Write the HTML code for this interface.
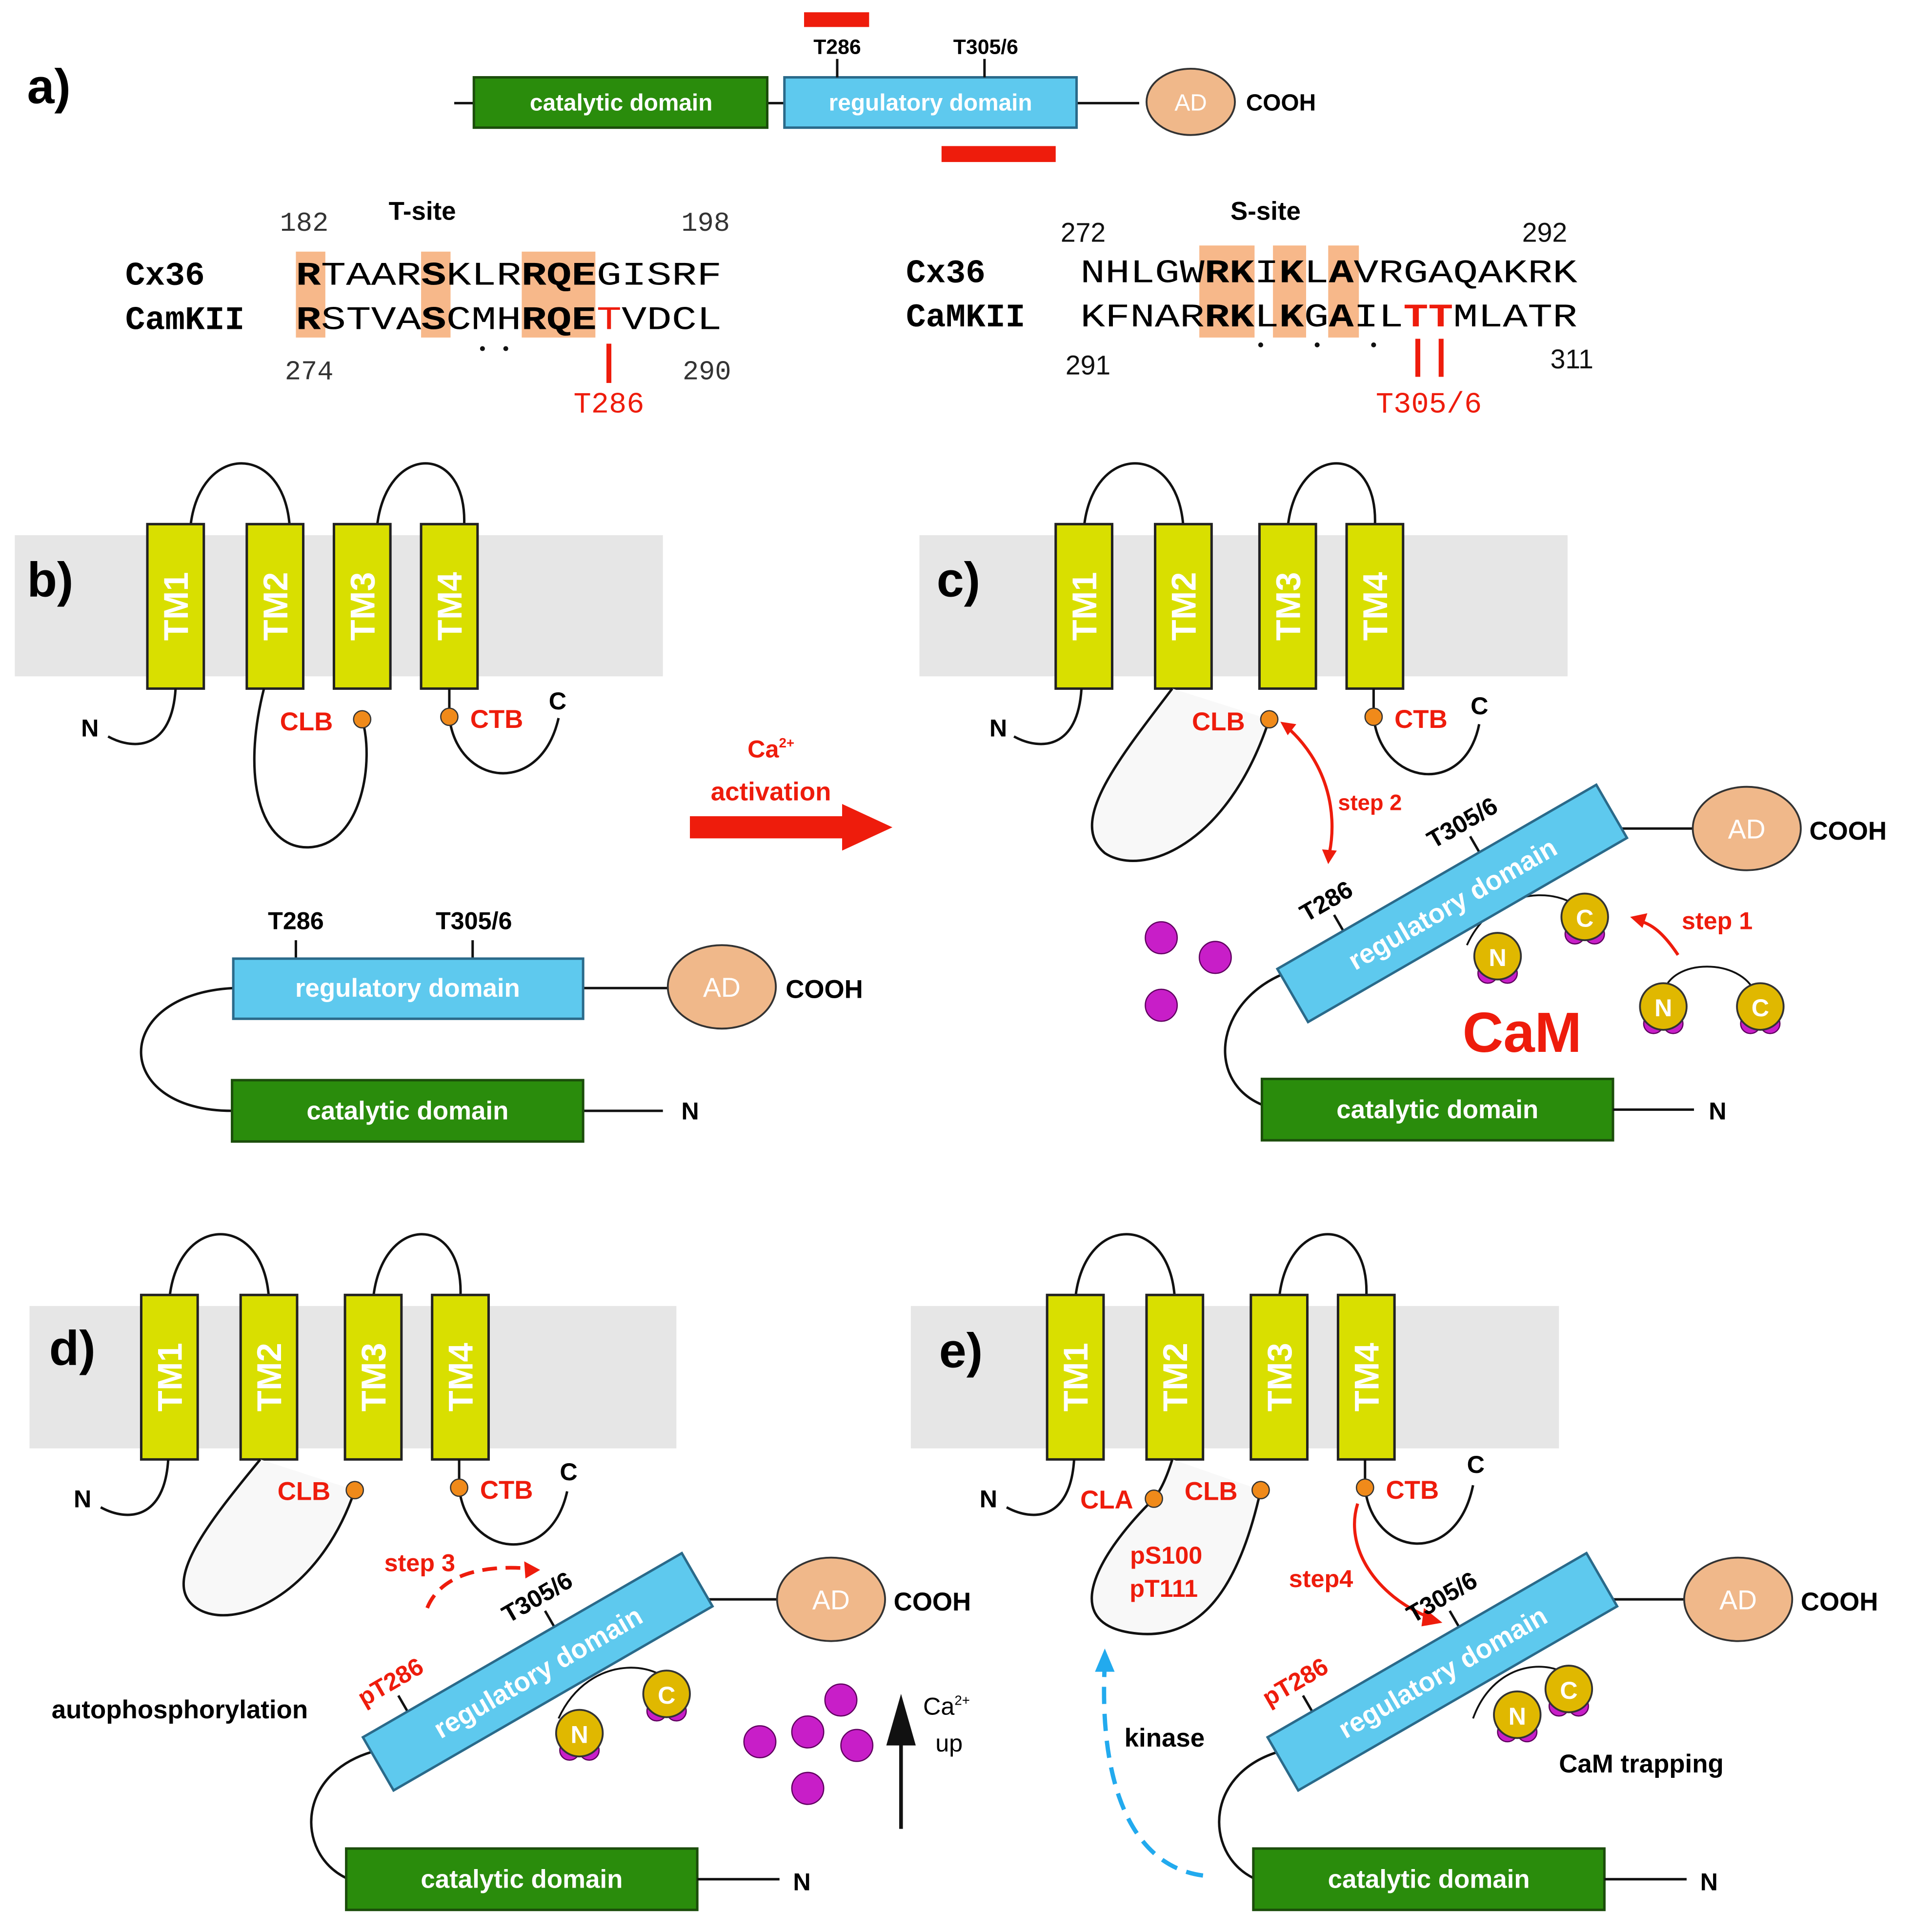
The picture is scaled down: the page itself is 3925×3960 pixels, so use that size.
<!DOCTYPE html>
<html><head><meta charset="utf-8"><style>
html,body{margin:0;padding:0;background:#fff}
svg{display:block}
text{font-family:"Liberation Sans",sans-serif}
.mono{font-family:"Liberation Mono",monospace}
</style></head><body>
<svg width="3925" height="3960" viewBox="0 0 1560 1574" xmlns="http://www.w3.org/2000/svg">
<defs>
<g id="mem">
  <rect x="0" y="436" width="528" height="115" fill="#e6e6e6"/>
  <path d="M143 430 C150 360 220 360 224 430" fill="none" stroke="#111" stroke-width="2"/>
  <path d="M295 430 C302 360 370 360 366 430" fill="none" stroke="#111" stroke-width="2"/>
  <g fill="#d9df00" stroke="#222" stroke-width="2">
    <rect x="108" y="427" width="46" height="134"/>
    <rect x="189" y="427" width="46" height="134"/>
    <rect x="260" y="427" width="46" height="134"/>
    <rect x="331" y="427" width="46" height="134"/>
  </g>
  <g fill="#fff" font-weight="bold" font-size="28">
    <text transform="translate(141 494) rotate(-90)" text-anchor="middle">TM1</text>
    <text transform="translate(222 494) rotate(-90)" text-anchor="middle">TM2</text>
    <text transform="translate(293 494) rotate(-90)" text-anchor="middle">TM3</text>
    <text transform="translate(364 494) rotate(-90)" text-anchor="middle">TM4</text>
  </g>
</g>
<g id="mem2">
  <path d="M131 430 C138 360 208 360 212 430" fill="none" stroke="#111" stroke-width="2"/>
  <path d="M297 430 C304 360 372 360 368 430" fill="none" stroke="#111" stroke-width="2"/>
  <g fill="#d9df00" stroke="#222" stroke-width="2">
    <rect x="108" y="427" width="46" height="134"/>
    <rect x="189" y="427" width="46" height="134"/>
    <rect x="274" y="427" width="46" height="134"/>
    <rect x="345" y="427" width="46" height="134"/>
  </g>
  <g fill="#fff" font-weight="bold" font-size="28">
    <text transform="translate(141 494) rotate(-90)" text-anchor="middle">TM1</text>
    <text transform="translate(222 494) rotate(-90)" text-anchor="middle">TM2</text>
    <text transform="translate(307 494) rotate(-90)" text-anchor="middle">TM3</text>
    <text transform="translate(378 494) rotate(-90)" text-anchor="middle">TM4</text>
  </g>
</g>
<g id="cam">
  <circle cx="-4" cy="14" r="8" fill="#c81ec8" stroke="#600060"/>
  <circle cx="12" cy="14" r="8" fill="#c81ec8" stroke="#600060"/>
  <circle cx="4" cy="0" r="19" fill="#e0b800" stroke="#333" stroke-width="1.5"/>
</g>
</defs>

<!-- panel a -->
<text x="22" y="84" font-size="40" font-weight="bold">a)</text>
<line x1="370" y1="84" x2="386" y2="84" stroke="#111" stroke-width="2"/>
<line x1="625" y1="84" x2="639" y2="84" stroke="#111" stroke-width="2"/>
<line x1="877" y1="84" x2="928" y2="84" stroke="#111" stroke-width="2"/>
<rect x="386" y="63" width="239" height="41" fill="#2a8c0c" stroke="#1b4d0b" stroke-width="2"/>
<text x="506" y="90" fill="#fff" font-size="19" font-weight="bold" text-anchor="middle">catalytic domain</text>
<rect x="639" y="63" width="238" height="41" fill="#5ec9ee" stroke="#2a6a8a" stroke-width="2"/>
<text x="758" y="90" fill="#fff" font-size="19" font-weight="bold" text-anchor="middle">regulatory domain</text>
<line x1="682" y1="48" x2="682" y2="63" stroke="#111" stroke-width="2"/>
<line x1="802" y1="48" x2="802" y2="63" stroke="#111" stroke-width="2"/>
<text x="682" y="44" font-size="17" font-weight="bold" text-anchor="middle">T286</text>
<text x="803" y="44" font-size="17" font-weight="bold" text-anchor="middle">T305/6</text>
<rect x="655" y="10" width="53" height="12" fill="#ee1c0c"/>
<rect x="767" y="119" width="93" height="13" fill="#ee1c0c"/>
<ellipse cx="970" cy="83" rx="36" ry="27" fill="#f0b88a" stroke="#333" stroke-width="1.5"/>
<text x="970" y="90" fill="#fff" font-size="19" text-anchor="middle">AD</text>
<text x="1015" y="90" font-size="19" font-weight="bold">COOH</text>

<!-- T-site -->
<g fill="#f7b88a">
<rect x="241" y="205" width="24" height="70"/>
<rect x="343" y="205" width="24" height="70"/>
<rect x="425" y="205" width="60" height="70"/>
<rect x="977" y="200" width="45" height="75"/>
<rect x="1037" y="200" width="27" height="75"/>
<rect x="1082" y="200" width="25" height="75"/>
</g>
<text x="344" y="179" font-size="21" font-weight="bold" text-anchor="middle">T-site</text>
<text class="mono" x="228" y="188" font-size="22" fill="#333">182</text>
<text class="mono" x="555" y="188" font-size="22" fill="#333">198</text>
<text class="mono" x="232" y="309" font-size="22" fill="#333">274</text>
<text class="mono" x="556" y="309" font-size="22" fill="#333">290</text>
<text class="mono" x="102" y="232" font-size="27" font-weight="bold">Cx36</text>
<text class="mono" x="102" y="268" font-size="27" font-weight="bold">CamKII</text>
<text class="mono" x="241" y="232" font-size="27" textLength="347" lengthAdjust="spacingAndGlyphs"><tspan font-weight="bold">R</tspan>TAAR<tspan font-weight="bold">S</tspan>KLR<tspan font-weight="bold">RQE</tspan>GISRF</text>
<text class="mono" x="241" y="268" font-size="27" textLength="347" lengthAdjust="spacingAndGlyphs"><tspan font-weight="bold">R</tspan>STVA<tspan font-weight="bold">S</tspan>CMH<tspan font-weight="bold">RQE</tspan><tspan fill="#ee1c0c">T</tspan>VDCL</text>
<circle cx="393" cy="284" r="2" fill="#111"/><circle cx="412" cy="284" r="2" fill="#111"/>
<rect x="494" y="280" width="4" height="32" fill="#ee1c0c"/>
<text class="mono" x="496" y="336" font-size="24" fill="#ee1c0c" text-anchor="middle">T286</text>

<!-- S-site -->
<text x="1031" y="179" font-size="21" font-weight="bold" text-anchor="middle">S-site</text>
<text x="864" y="197" font-size="22" fill="#111">272</text>
<text x="1240" y="197" font-size="22" fill="#111">292</text>
<text x="868" y="305" font-size="22" fill="#111">291</text>
<text x="1263" y="300" font-size="22" fill="#111">311</text>
<text class="mono" x="738" y="230" font-size="27" font-weight="bold">Cx36</text>
<text class="mono" x="738" y="266" font-size="27" font-weight="bold">CaMKII</text>
<text class="mono" x="880" y="230" font-size="27" textLength="405" lengthAdjust="spacingAndGlyphs">NHLGW<tspan font-weight="bold">RK</tspan>I<tspan font-weight="bold">K</tspan>L<tspan font-weight="bold">A</tspan>VRGAQAKRK</text>
<text class="mono" x="880" y="266" font-size="27" textLength="405" lengthAdjust="spacingAndGlyphs">KFNAR<tspan font-weight="bold">RK</tspan>L<tspan font-weight="bold">K</tspan>G<tspan font-weight="bold">A</tspan>IL<tspan fill="#ee1c0c" font-weight="bold">TT</tspan>MLATR</text>
<circle cx="1027" cy="281" r="2" fill="#111"/><circle cx="1073" cy="281" r="2" fill="#111"/><circle cx="1119" cy="281" r="2" fill="#111"/>
<rect x="1153" y="276" width="4" height="31" fill="#ee1c0c"/>
<rect x="1172" y="276" width="4" height="31" fill="#ee1c0c"/>
<text class="mono" x="1164" y="336" font-size="24" fill="#ee1c0c" text-anchor="middle">T305/6</text>

<!-- panel b -->
<use href="#mem" x="12" y="0"/>
<text x="22" y="486" font-size="40" font-weight="bold">b)</text>
<g fill="none" stroke="#111" stroke-width="2">
<path d="M143 561 C140 610 110 612 88 600"/>
<path d="M215 561 C195 640 215 695 255 690 C295 685 305 620 295 586"/>
<path d="M366 561 L366 584 C372 640 440 650 455 585"/>
</g>
<circle cx="295" cy="586" r="7" fill="#f08a1a" stroke="#333"/>
<circle cx="366" cy="584" r="7" fill="#f08a1a" stroke="#333"/>
<text x="66" y="600" font-size="20" font-weight="bold">N</text>
<text x="228" y="595" font-size="21" font-weight="bold" fill="#ee1c0c">CLB</text>
<text x="383" y="593" font-size="21" font-weight="bold" fill="#ee1c0c">CTB</text>
<text x="447" y="578" font-size="20" font-weight="bold">C</text>
<!-- b kinase -->
<line x1="475" y1="805" x2="545" y2="805" stroke="#111" stroke-width="2"/>
<line x1="475" y1="905" x2="540" y2="905" stroke="#111" stroke-width="2"/>
<path d="M190 805 C90 810 90 905 189 905" fill="none" stroke="#111" stroke-width="2"/>
<line x1="241" y1="766" x2="241" y2="781" stroke="#111" stroke-width="2"/>
<line x1="385" y1="766" x2="385" y2="781" stroke="#111" stroke-width="2"/>
<text x="241" y="757" font-size="20" font-weight="bold" text-anchor="middle">T286</text>
<text x="386" y="757" font-size="20" font-weight="bold" text-anchor="middle">T305/6</text>
<rect x="190" y="781" width="285" height="49" fill="#5ec9ee" stroke="#2a6a8a" stroke-width="2"/>
<text x="332" y="812" fill="#fff" font-size="21" font-weight="bold" text-anchor="middle">regulatory domain</text>
<rect x="189" y="880" width="286" height="50" fill="#2a8c0c" stroke="#1b4d0b" stroke-width="2"/>
<text x="332" y="912" fill="#fff" font-size="21" font-weight="bold" text-anchor="middle">catalytic domain</text>
<ellipse cx="588" cy="804" rx="44" ry="34" fill="#f0b88a" stroke="#333" stroke-width="1.5"/>
<text x="588" y="812" fill="#fff" font-size="22" text-anchor="middle">AD</text>
<text x="640" y="813" font-size="21" font-weight="bold">COOH</text>
<text x="555" y="912" font-size="20" font-weight="bold">N</text>

<!-- activation arrow -->
<text x="628" y="617" font-size="20" font-weight="bold" fill="#ee1c0c" text-anchor="middle">Ca<tspan font-size="11" dy="-8">2+</tspan></text>
<text x="628" y="652" font-size="21" font-weight="bold" fill="#ee1c0c" text-anchor="middle">activation</text>
<polygon points="562,665 686,665 686,655 727,674 686,693 686,683 562,683" fill="#ee1c0c"/>

<!-- panel c -->
<rect x="749" y="436" width="528" height="115" fill="#e6e6e6"/>
<use href="#mem2" x="752" y="0"/>
<text x="763" y="486" font-size="40" font-weight="bold">c)</text>
<g fill="none" stroke="#111" stroke-width="2">
<path d="M881 561 C878 610 848 612 826 600"/>
<path d="M1119 561 L1119 584 C1125 640 1193 650 1205 590"/>
</g>
<path d="M955 561 C910 620 870 670 900 695 C930 715 1000 690 1034 586" fill="#f8f8f8" stroke="#111" stroke-width="2"/>
<circle cx="1034" cy="586" r="7" fill="#f08a1a" stroke="#333"/>
<circle cx="1119" cy="584" r="7" fill="#f08a1a" stroke="#333"/>
<text x="806" y="600" font-size="20" font-weight="bold">N</text>
<text x="971" y="595" font-size="21" font-weight="bold" fill="#ee1c0c">CLB</text>
<text x="1136" y="593" font-size="21" font-weight="bold" fill="#ee1c0c">CTB</text>
<text x="1198" y="582" font-size="20" font-weight="bold">C</text>
<path d="M1048 592 C1080 620 1090 660 1083 695" fill="none" stroke="#ee1c0c" stroke-width="2.5"/>
<polygon points="1043,588 1056,590 1049,599" fill="#ee1c0c"/>
<polygon points="1077,692 1089,693 1082,704" fill="#ee1c0c"/>
<text x="1090" y="660" font-size="18" font-weight="bold" fill="#ee1c0c">step 2</text>
<line x1="1318" y1="675" x2="1380" y2="675" stroke="#111" stroke-width="2"/>
<ellipse cx="1423" cy="675" rx="44" ry="34" fill="#f0b88a" stroke="#333" stroke-width="1.5"/>
<text x="1423" y="683" fill="#fff" font-size="22" text-anchor="middle">AD</text>
<text x="1474" y="684" font-size="21" font-weight="bold">COOH</text>
<path d="M1055 790 C990 810 980 880 1028 900" fill="none" stroke="#111" stroke-width="2"/>
<path d="M1195 770 C1220 715 1290 720 1300 760" fill="none" stroke="#111" stroke-width="1.5"/>
<g transform="translate(1183 736) rotate(-30)">
<line x1="-88" y1="-25" x2="-88" y2="-40" stroke="#111" stroke-width="2"/>
<line x1="40" y1="-25" x2="40" y2="-40" stroke="#111" stroke-width="2"/>
<text x="-88" y="-46" font-size="20" font-weight="bold" text-anchor="middle">T286</text>
<text x="40" y="-46" font-size="20" font-weight="bold" text-anchor="middle">T305/6</text>
<rect x="-150" y="-25" width="300" height="50" fill="#5ec9ee" stroke="#2a6a8a" stroke-width="2"/>
<text x="0" y="8" fill="#fff" font-size="22" font-weight="bold" text-anchor="middle">regulatory domain</text>
</g>
<use href="#cam" x="1216" y="779"/><text x="1220" y="787" fill="#fff" font-size="20" font-weight="bold" text-anchor="middle">N</text>
<use href="#cam" x="1287" y="747"/><text x="1291" y="755" fill="#fff" font-size="20" font-weight="bold" text-anchor="middle">C</text>
<path d="M1355 810 C1360 780 1420 780 1430 810" fill="none" stroke="#111" stroke-width="1.5"/>
<use href="#cam" x="1351" y="820"/><text x="1355" y="828" fill="#fff" font-size="20" font-weight="bold" text-anchor="middle">N</text>
<use href="#cam" x="1430" y="820"/><text x="1434" y="828" fill="#fff" font-size="20" font-weight="bold" text-anchor="middle">C</text>
<path d="M1367 778 C1355 760 1345 752 1334 750" fill="none" stroke="#ee1c0c" stroke-width="2.5"/>
<polygon points="1328,747 1342,744 1338,756" fill="#ee1c0c"/>
<text x="1370" y="757" font-size="20" font-weight="bold" fill="#ee1c0c">step 1</text>
<text x="1240" y="857" font-size="46" font-weight="bold" fill="#ee1c0c" text-anchor="middle">CaM</text>
<g fill="#c81ec8" stroke="#600060"><circle cx="946" cy="764" r="13"/><circle cx="990" cy="780" r="13"/><circle cx="946" cy="819" r="13"/></g>
<rect x="1028" y="879" width="286" height="50" fill="#2a8c0c" stroke="#1b4d0b" stroke-width="2"/>
<text x="1171" y="911" fill="#fff" font-size="21" font-weight="bold" text-anchor="middle">catalytic domain</text>
<line x1="1314" y1="904" x2="1380" y2="904" stroke="#111" stroke-width="2"/>
<text x="1392" y="912" font-size="20" font-weight="bold">N</text>

<!-- panel d -->
<rect x="24" y="1064" width="527" height="116" fill="#e6e6e6"/>
<use href="#mem2" x="7" y="628"/>
<text x="40" y="1112" font-size="40" font-weight="bold">d)</text>
<g fill="none" stroke="#111" stroke-width="2">
<path d="M137 1189 C134 1238 104 1240 82 1228"/>
<path d="M374 1189 L374 1212 C380 1268 448 1278 462 1215"/>
</g>
<path d="M212 1189 C170 1240 130 1290 160 1310 C190 1330 260 1300 289 1214" fill="#f8f8f8" stroke="#111" stroke-width="2"/>
<circle cx="289" cy="1214" r="7" fill="#f08a1a" stroke="#333"/>
<circle cx="374" cy="1212" r="7" fill="#f08a1a" stroke="#333"/>
<text x="60" y="1228" font-size="20" font-weight="bold">N</text>
<text x="226" y="1222" font-size="21" font-weight="bold" fill="#ee1c0c">CLB</text>
<text x="391" y="1221" font-size="21" font-weight="bold" fill="#ee1c0c">CTB</text>
<text x="456" y="1206" font-size="20" font-weight="bold">C</text>
<text x="313" y="1280" font-size="20" font-weight="bold" fill="#ee1c0c">step 3</text>
<path d="M348 1310 C360 1280 400 1275 432 1278" fill="none" stroke="#ee1c0c" stroke-width="3" stroke-dasharray="12 7"/>
<polygon points="440,1279 427,1272 428,1286" fill="#ee1c0c"/>
<line x1="572" y1="1303" x2="634" y2="1303" stroke="#111" stroke-width="2"/>
<ellipse cx="677" cy="1303" rx="44" ry="34" fill="#f0b88a" stroke="#333" stroke-width="1.5"/>
<text x="677" y="1311" fill="#fff" font-size="22" text-anchor="middle">AD</text>
<text x="728" y="1312" font-size="21" font-weight="bold">COOH</text>
<path d="M312 1425 C240 1440 240 1510 282 1530" fill="none" stroke="#111" stroke-width="2"/>
<path d="M455 1400 C480 1345 545 1350 555 1385" fill="none" stroke="#111" stroke-width="1.5"/>
<g transform="translate(438 1362) rotate(-30)">
<line x1="-108" y1="-25" x2="-108" y2="-40" stroke="#111" stroke-width="2"/>
<line x1="30" y1="-25" x2="30" y2="-40" stroke="#111" stroke-width="2"/>
<text x="-108" y="-46" font-size="20" font-weight="bold" fill="#ee1c0c" text-anchor="middle">pT286</text>
<text x="30" y="-46" font-size="20" font-weight="bold" text-anchor="middle">T305/6</text>
<rect x="-150" y="-25" width="300" height="50" fill="#5ec9ee" stroke="#2a6a8a" stroke-width="2"/>
<text x="0" y="8" fill="#fff" font-size="22" font-weight="bold" text-anchor="middle">regulatory domain</text>
</g>
<use href="#cam" x="468" y="1412"/><text x="472" y="1420" fill="#fff" font-size="20" font-weight="bold" text-anchor="middle">N</text>
<use href="#cam" x="539" y="1380"/><text x="543" y="1388" fill="#fff" font-size="20" font-weight="bold" text-anchor="middle">C</text>
<text x="42" y="1400" font-size="21" font-weight="bold">autophosphorylation</text>
<g fill="#c81ec8" stroke="#600060"><circle cx="685" cy="1385" r="13"/><circle cx="619" cy="1419" r="13"/><circle cx="658" cy="1411" r="13"/><circle cx="698" cy="1422" r="13"/><circle cx="658" cy="1457" r="13"/></g>
<line x1="734" y1="1420" x2="734" y2="1490" stroke="#111" stroke-width="3"/>
<polygon points="722,1422 746,1422 734,1380" fill="#111"/>
<text x="752" y="1397" font-size="20">Ca<tspan font-size="11" dy="-8">2+</tspan></text>
<text x="762" y="1427" font-size="20">up</text>
<rect x="282" y="1506" width="286" height="50" fill="#2a8c0c" stroke="#1b4d0b" stroke-width="2"/>
<text x="425" y="1538" fill="#fff" font-size="21" font-weight="bold" text-anchor="middle">catalytic domain</text>
<line x1="568" y1="1531" x2="635" y2="1531" stroke="#111" stroke-width="2"/>
<text x="646" y="1540" font-size="20" font-weight="bold">N</text>

<!-- panel e -->
<rect x="742" y="1064" width="528" height="116" fill="#e6e6e6"/>
<use href="#mem2" x="745" y="628"/>
<text x="765" y="1114" font-size="40" font-weight="bold">e)</text>
<g fill="none" stroke="#111" stroke-width="2">
<path d="M875 1189 C872 1238 842 1240 820 1228"/>
<path d="M1112 1189 L1112 1212 C1118 1268 1186 1278 1200 1210"/>
</g>
<path d="M955 1189 C950 1205 945 1215 940 1221 C900 1260 860 1320 920 1330 C980 1340 1010 1290 1027 1214" fill="#f8f8f8" stroke="#111" stroke-width="2"/>
<circle cx="940" cy="1221" r="7" fill="#f08a1a" stroke="#333"/>
<circle cx="1027" cy="1214" r="7" fill="#f08a1a" stroke="#333"/>
<circle cx="1112" cy="1212" r="7" fill="#f08a1a" stroke="#333"/>
<text x="798" y="1228" font-size="20" font-weight="bold">N</text>
<text x="880" y="1229" font-size="21" font-weight="bold" fill="#ee1c0c">CLA</text>
<text x="965" y="1222" font-size="21" font-weight="bold" fill="#ee1c0c">CLB</text>
<text x="1129" y="1221" font-size="21" font-weight="bold" fill="#ee1c0c">CTB</text>
<text x="1195" y="1200" font-size="20" font-weight="bold">C</text>
<text x="950" y="1274" font-size="20" font-weight="bold" fill="#ee1c0c" text-anchor="middle">pS100</text>
<text x="948" y="1301" font-size="20" font-weight="bold" fill="#ee1c0c" text-anchor="middle">pT111</text>
<text x="1050" y="1293" font-size="20" font-weight="bold" fill="#ee1c0c">step4</text>
<path d="M1106 1225 C1095 1260 1120 1300 1165 1318" fill="none" stroke="#ee1c0c" stroke-width="2.5"/>
<polygon points="1175,1322 1160,1310 1158,1325" fill="#ee1c0c"/>
<path d="M980 1528 C920 1520 895 1450 900 1355" fill="none" stroke="#22aaee" stroke-width="3.5" stroke-dasharray="14 8"/>
<polygon points="892,1362 908,1362 900,1343" fill="#22aaee"/>
<text x="916" y="1423" font-size="21" font-weight="bold">kinase</text>
<line x1="1310" y1="1303" x2="1372" y2="1303" stroke="#111" stroke-width="2"/>
<ellipse cx="1416" cy="1303" rx="44" ry="34" fill="#f0b88a" stroke="#333" stroke-width="1.5"/>
<text x="1416" y="1311" fill="#fff" font-size="22" text-anchor="middle">AD</text>
<text x="1467" y="1312" font-size="21" font-weight="bold">COOH</text>
<path d="M1050 1425 C980 1440 980 1510 1021 1530" fill="none" stroke="#111" stroke-width="2"/>
<path d="M1200 1400 C1220 1345 1280 1350 1290 1380" fill="none" stroke="#111" stroke-width="1.5"/>
<g transform="translate(1175 1362) rotate(-30)">
<line x1="-108" y1="-25" x2="-108" y2="-40" stroke="#111" stroke-width="2"/>
<line x1="30" y1="-25" x2="30" y2="-40" stroke="#111" stroke-width="2"/>
<text x="-108" y="-46" font-size="20" font-weight="bold" fill="#ee1c0c" text-anchor="middle">pT286</text>
<text x="30" y="-46" font-size="20" font-weight="bold" text-anchor="middle">T305/6</text>
<rect x="-150" y="-25" width="300" height="50" fill="#5ec9ee" stroke="#2a6a8a" stroke-width="2"/>
<text x="0" y="8" fill="#fff" font-size="22" font-weight="bold" text-anchor="middle">regulatory domain</text>
</g>
<use href="#cam" x="1232" y="1397"/><text x="1236" y="1405" fill="#fff" font-size="20" font-weight="bold" text-anchor="middle">N</text>
<use href="#cam" x="1274" y="1376"/><text x="1278" y="1384" fill="#fff" font-size="20" font-weight="bold" text-anchor="middle">C</text>
<text x="1270" y="1444" font-size="21" font-weight="bold">CaM trapping</text>
<rect x="1021" y="1506" width="286" height="50" fill="#2a8c0c" stroke="#1b4d0b" stroke-width="2"/>
<text x="1164" y="1538" fill="#fff" font-size="21" font-weight="bold" text-anchor="middle">catalytic domain</text>
<line x1="1307" y1="1531" x2="1374" y2="1531" stroke="#111" stroke-width="2"/>
<text x="1385" y="1540" font-size="20" font-weight="bold">N</text>
</svg>
</body></html>
